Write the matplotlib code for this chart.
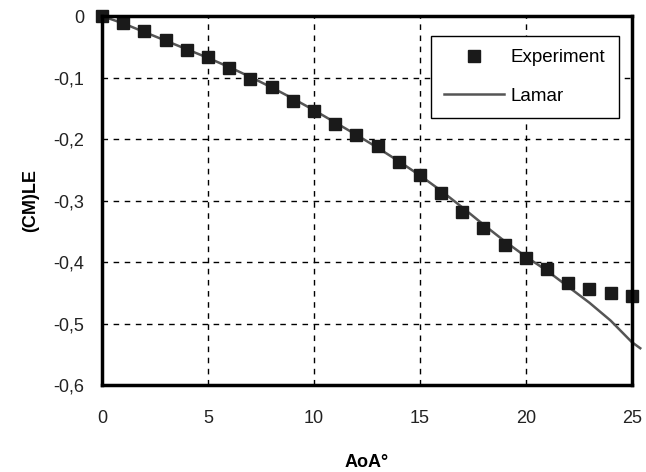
import matplotlib.pyplot as plt

plt.rcParams['font.family'] = ['Liberation Sans', 'DejaVu Sans']

# angle of attack (deg)
aoa_exp = [0, 1, 2, 3, 4, 5, 6, 7, 8, 9, 10, 11, 12, 13, 14, 15, 16, 17, 18, 19, 20, 21, 22, 23, 24, 25]
cm_exp = [0.0, -0.011, -0.025, -0.039, -0.055, -0.066, -0.084, -0.102, -0.116, -0.138, -0.155,
          -0.175, -0.194, -0.212, -0.237, -0.259, -0.288, -0.318, -0.345, -0.372, -0.394,
          -0.412, -0.434, -0.443, -0.450, -0.455]

aoa_lamar = [0, 1, 2, 3, 4, 5, 6, 7, 8, 9, 10, 11, 12, 13, 14, 15, 16, 17, 18, 19, 20, 21, 22, 23, 24, 25, 25.4]
cm_lamar = [0.0, -0.012, -0.026, -0.040, -0.054, -0.068, -0.083, -0.099, -0.116, -0.134, -0.153,
            -0.173, -0.193, -0.214, -0.236, -0.259, -0.284, -0.311, -0.339, -0.366, -0.391,
            -0.414, -0.440, -0.466, -0.495, -0.530, -0.540]

xticks = [0, 5, 10, 15, 20, 25]
yticks = [0, -0.1, -0.2, -0.3, -0.4, -0.5, -0.6]
ytick_labels = ['0', '-0,1', '-0,2', '-0,3', '-0,4', '-0,5', '-0,6']

fig = plt.figure(figsize=(6.46, 4.72), dpi=100)
ax = fig.add_axes([0.158, 0.184, 0.820, 0.782])

ax.plot(aoa_lamar, cm_lamar, color='#555555', lw=1.8, label='Lamar', clip_on=False, zorder=3)
ax.plot(aoa_exp, cm_exp, ls='none', marker='s', ms=8.5, color='#1a1a1a', label='Experiment',
        clip_on=False, zorder=4)

ax.set_xlim(0, 25)
ax.set_ylim(-0.6, 0)
ax.set_xticks(xticks)
ax.set_xticklabels([str(t) for t in xticks])
ax.set_yticks(yticks)
ax.set_yticklabels(ytick_labels)
ax.tick_params(length=0, labelsize=13, colors='#222222')
ax.tick_params(axis='x', pad=18)
ax.tick_params(axis='y', pad=13)

ax.grid(True, color='black', ls=(0, (4, 4)), lw=1)
for s in ax.spines.values():
    s.set_linewidth(2.5)
    s.set_color('black')
    s.set_zorder(5)

ax.set_xlabel('AoA°', fontsize=13, fontweight='bold', labelpad=19)
ax.set_ylabel('(CM)LE', fontsize=13, fontweight='bold', labelpad=10)

h, l = ax.get_legend_handles_labels()
leg = ax.legend(h[::-1], l[::-1], loc='upper right', bbox_to_anchor=(0.975, 0.946), fontsize=13.5,
                frameon=True, fancybox=False, edgecolor='black', handlelength=3.2,
                handletextpad=0.35, borderpad=0.7, labelspacing=1.15, borderaxespad=0)
leg.get_frame().set_linewidth(1)
leg.get_frame().set_alpha(1)

fig.savefig('out.png', dpi=100)
